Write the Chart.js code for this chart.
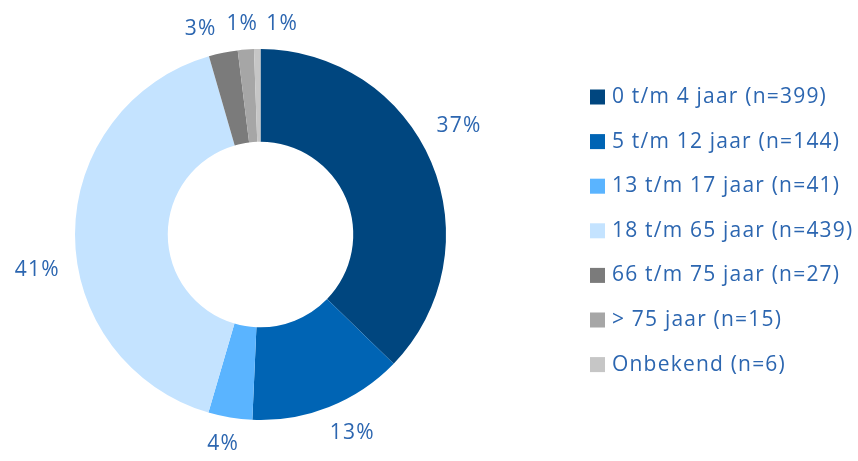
<!DOCTYPE html>
<html>
<head>
<meta charset="utf-8">
<script src="https://cdn.jsdelivr.net/npm/chart.js@4/dist/chart.umd.min.js"></script>
<style>
  html, body { margin: 0; padding: 0; background: #fff; }
  #wrap { width: 858px; height: 461px; }
</style>
</head>
<body>
<div id="wrap"><canvas id="leeftijd_chart"></canvas></div>
<script>
// leeftijdsgroepen en aantallen
const age_groups = ['0 t/m 4 jaar', '5 t/m 12 jaar', '13 t/m 17 jaar', '18 t/m 65 jaar', '66 t/m 75 jaar', '> 75 jaar', 'Onbekend']
const age_counts = [399, 144, 41, 439, 27, 15, 6]
const age_colors = ['#00467f', '#0064b4', '#5ab4ff', '#c4e3ff', '#7b7b7b', '#a6a6a6', '#c6c6c6']

const text_color = '#2c66b0'
const font_family = '"Open Sans", "Noto Sans", sans-serif'

const total = age_counts.reduce((a, b) => a + b, 0)

// percentages buiten de ring
const outside_labels = {
  id: 'outside_labels',
  afterDatasetsDraw(chart, args, opts) {
    const ctx = chart.ctx
    const meta = chart.getDatasetMeta(0)
    ctx.save()
    ctx.font = `${opts.size}px ${font_family}`
    ctx.letterSpacing = opts.spacing + 'px'
    ctx.fillStyle = text_color
    ctx.textAlign = 'center'
    ctx.textBaseline = 'middle'
    meta.data.forEach((arc, i) => {
      const p = arc.getProps(['x', 'y', 'startAngle', 'endAngle', 'outerRadius'], true)
      const mid = (p.startAngle + p.endAngle) / 2 + (opts.shift[i] || 0) * Math.PI / 180
      const dx = Math.cos(mid)
      const dy = Math.sin(mid)
      const txt = Math.round(age_counts[i] / total * 100) + '%'
      const w = ctx.measureText(txt).width
      const h = opts.size * 0.75
      const dist = p.outerRadius + opts.gap + Math.abs(dx) * w / 2 + Math.abs(dy) * h / 2
      ctx.fillText(txt, p.x + dx * dist, p.y + dy * dist)
    })
    ctx.restore()
  }
}

// legenda rechts
const side_legend = {
  id: 'side_legend',
  afterDraw(chart, args, opts) {
    const ctx = chart.ctx
    ctx.save()
    ctx.font = `${opts.size}px ${font_family}`
    ctx.letterSpacing = opts.spacing + 'px'
    ctx.textBaseline = 'middle'
    ctx.textAlign = 'left'
    chart.data.labels.forEach((label, i) => {
      const y = opts.top + i * opts.step
      ctx.fillStyle = age_colors[i]
      ctx.fillRect(opts.left, y - opts.box / 2, opts.box, opts.box)
      ctx.fillStyle = text_color
      ctx.fillText(`${label} (n=${age_counts[i]})`, opts.left + opts.box + 7, y)
    })
    ctx.restore()
  }
}

const ctx = document.getElementById('leeftijd_chart').getContext('2d')

const leeftijd_chart = new Chart(ctx, {
  type: 'doughnut',
  data: {
    labels: age_groups,
    datasets: [{
      data: age_counts,
      backgroundColor: age_colors,
      borderWidth: 0
    }]
  },
  options: {
    responsive: true,
    maintainAspectRatio: false,
    animation: false,
    cutout: '50%',
    layout: {
      padding: { left: 75, right: 412, top: 49, bottom: 41 }
    },
    plugins: {
      legend: { display: false },
      tooltip: { enabled: false },
      outside_labels: { size: 21, spacing: 1.2, gap: 17, shift: [-5.6, -3.1, 0.7, -9, -4.6, -0.4, 6.9] },
      side_legend: { size: 21, spacing: 1.2, left: 590, top: 97, step: 44.6, box: 15 }
    }
  },
  plugins: [outside_labels, side_legend]
})
</script>
</body>
</html>
